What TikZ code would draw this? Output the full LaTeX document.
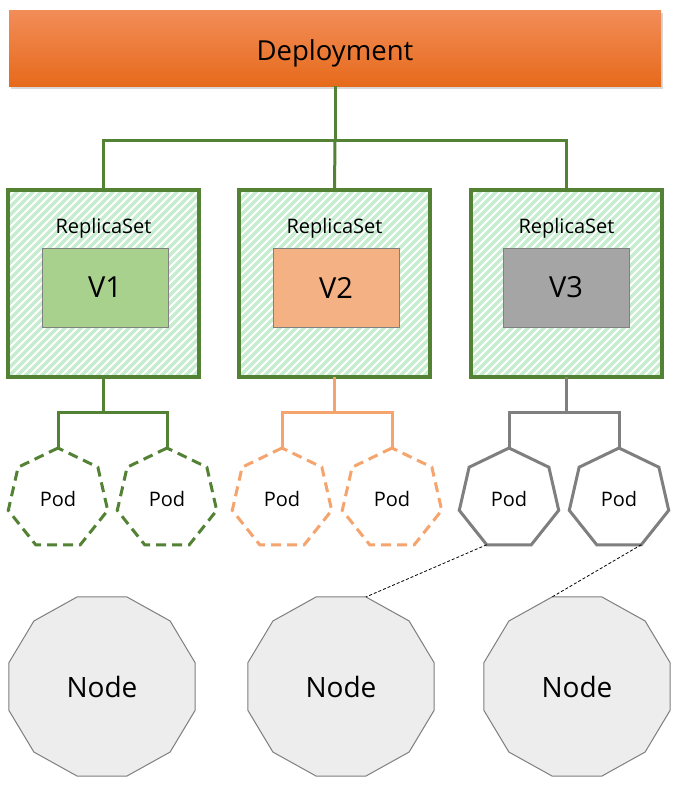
\documentclass[tikz,border=0pt]{standalone}
\usepackage{fontspec}
\setmainfont{Open Sans}
\usetikzlibrary{shapes.geometric,shadows,backgrounds,calc}
\definecolor{kgreen}{HTML}{548235}
\definecolor{khatch}{HTML}{C6EDCF}
\definecolor{kvone}{HTML}{A9D18E}
\definecolor{kvtwo}{HTML}{F4B183}
\definecolor{kvthree}{HTML}{A5A5A5}
\definecolor{kborder}{HTML}{808080}
\definecolor{korange}{HTML}{F4A46C}
\definecolor{kgray}{HTML}{7F7F7F}
\definecolor{knode}{HTML}{EDEDED}
\definecolor{kdtop}{HTML}{F28D58}
\definecolor{kdmid}{HTML}{F37E2E}
\definecolor{kdbot}{HTML}{E66A1B}
\newcommand{\kdodec}[3]{%
  \begin{scope}[shift={(#1,#2)}]
    \draw[nodepoly] (15:96.3 and 92.7) -- (45:96.3 and 92.7) -- (75:96.3 and 92.7) -- (105:96.3 and 92.7) -- (135:96.3 and 92.7) -- (165:96.3 and 92.7) -- (195:96.3 and 92.7) -- (225:96.3 and 92.7) -- (255:96.3 and 92.7) -- (285:96.3 and 92.7) -- (315:96.3 and 92.7) -- (345:96.3 and 92.7) -- cycle;
    \coordinate (#3tr) at (-75:96.3 and 92.7);
    \coordinate (#3tl) at (-105:96.3 and 92.7);
    \node[nodetext] (#3) at (0,0) {Node};
  \end{scope}}
\begin{document}
\begin{tikzpicture}[x=1pt,y=-1pt,
  deploy/.style={rectangle, minimum width=652pt, minimum height=76pt, inner sep=0, outer sep=0,
    top color=kdtop, middle color=kdmid, bottom color=kdbot,
    drop shadow={shadow xshift=2pt, shadow yshift=-3pt, opacity=0.3}},
  deplabel/.style={font=\fontsize{27.5}{32}\selectfont, inner sep=0, text depth=0pt},
  rsbox/.style={rectangle, draw=kgreen, line width=3.5pt, minimum width=191pt, minimum height=187pt, inner sep=0, outer sep=0},
  rslabel/.style={font=\fontsize{20}{24}\selectfont, inner sep=0},
  vbox/.style={rectangle, draw=kborder, line width=1pt, minimum width=126pt, minimum height=79pt, inner sep=0, outer sep=0, font=\fontsize{29}{34}\selectfont},
  hatchline/.style={draw=khatch, line width=3.2pt},
  gtree/.style={draw=kgreen, line width=3pt},
  otree/.style={draw=korange, line width=3pt},
  ytree/.style={draw=kgray, line width=3pt},
  pod/.style={regular polygon, regular polygon sides=7, minimum size=102pt, inner sep=0, outer sep=0, line width=3pt, font=\fontsize{20}{24}\selectfont},
  gpod/.style={pod, draw=kgreen, dash pattern=on 10pt off 6pt},
  opod/.style={pod, draw=korange, dash pattern=on 10pt off 6pt},
  ypod/.style={pod, draw=kgray},
  nodepoly/.style={draw=kgray, fill=knode, line width=1pt},
  nodetext/.style={font=\fontsize{28}{32}\selectfont, inner sep=0},
  dotline/.style={draw=black, line width=0.8pt, dash pattern=on 3pt off 2pt}
]
\useasboundingbox (0,0) rectangle (675,785);

% Deployment
\node[deploy] (dep) at (335,48) {};
\node[deplabel] (deptext) at (335,50) {Deployment};

% ReplicaSets
\foreach \cx/\nm in {103.5/rs1, 334.5/rs2, 566.5/rs3}{
  \node[rsbox] (\nm) at (\cx,283.5) {};
}
\begin{pgfonlayer}{background}
  \fill[white] (0,0) rectangle (675,785);
  \foreach \cx in {103.5,334.5,566.5}{
    \begin{scope}
      \clip (\cx-95.5,190) rectangle (\cx+95.5,377);
      \foreach \k in {-200,-192,...,200}{
        \draw[hatchline] (\cx-95.5+\k,377) -- ++(200,-200);
      }
    \end{scope}
  }
\end{pgfonlayer}
\node[rslabel] (l1) at (103.5,228) {ReplicaSet};
\node[rslabel] (l2) at (334.5,228) {ReplicaSet};
\node[rslabel] (l3) at (566.5,228) {ReplicaSet};
\node[vbox, fill=kvone] (v1) at (105,287.5) {V1};
\node[vbox, fill=kvtwo] (v2) at (336,287.5) {V2};
\node[vbox, fill=kvthree] (v3) at (566,287.5) {V3};

% Deployment tree
\coordinate (t0) at ($(dep.south)+(0,54)$);
\draw[gtree] (dep.south) -- (t0);
\draw[gtree] (rs1.north) |- (t0) -| (rs3.north);
\draw[gtree] (t0) -- (rs2.north);

% Pods
\node[gpod] (p1) at (58,499) {Pod};
\node[gpod] (p2) at (167,499) {Pod};
\node[opod] (p3) at (282,499) {Pod};
\node[opod] (p4) at (392,499) {Pod};
\node[ypod] (p5) at (509,499) {Pod};
\node[ypod] (p6) at (619,499) {Pod};

% Pod trees
\coordinate (g1) at ($(rs1.south)+(0,35.5)$);
\draw[gtree] (rs1.south) -- (g1);
\draw[gtree] (p1.north) |- (g1) -| (p2.north);
\coordinate (g2) at ($(rs2.south)+(0,35.5)$);
\draw[otree] (rs2.south) -- (g2);
\draw[otree] (p3.north) |- (g2) -| (p4.north);
\coordinate (g3) at ($(rs3.south)+(0,35.5)$);
\draw[ytree] (rs3.south) -- (g3);
\draw[ytree] (p5.north) |- (g3) -| (p6.north);

% Nodes
\kdodec{102}{686.5}{n1}
\kdodec{341}{686.5}{n2}
\kdodec{577}{686.5}{n3}

% Scheduling lines
\draw[dotline] (p5.244) -- (n2tr);
\draw[dotline] (p6.296) -- (n3tl);
\end{tikzpicture}
\end{document}
